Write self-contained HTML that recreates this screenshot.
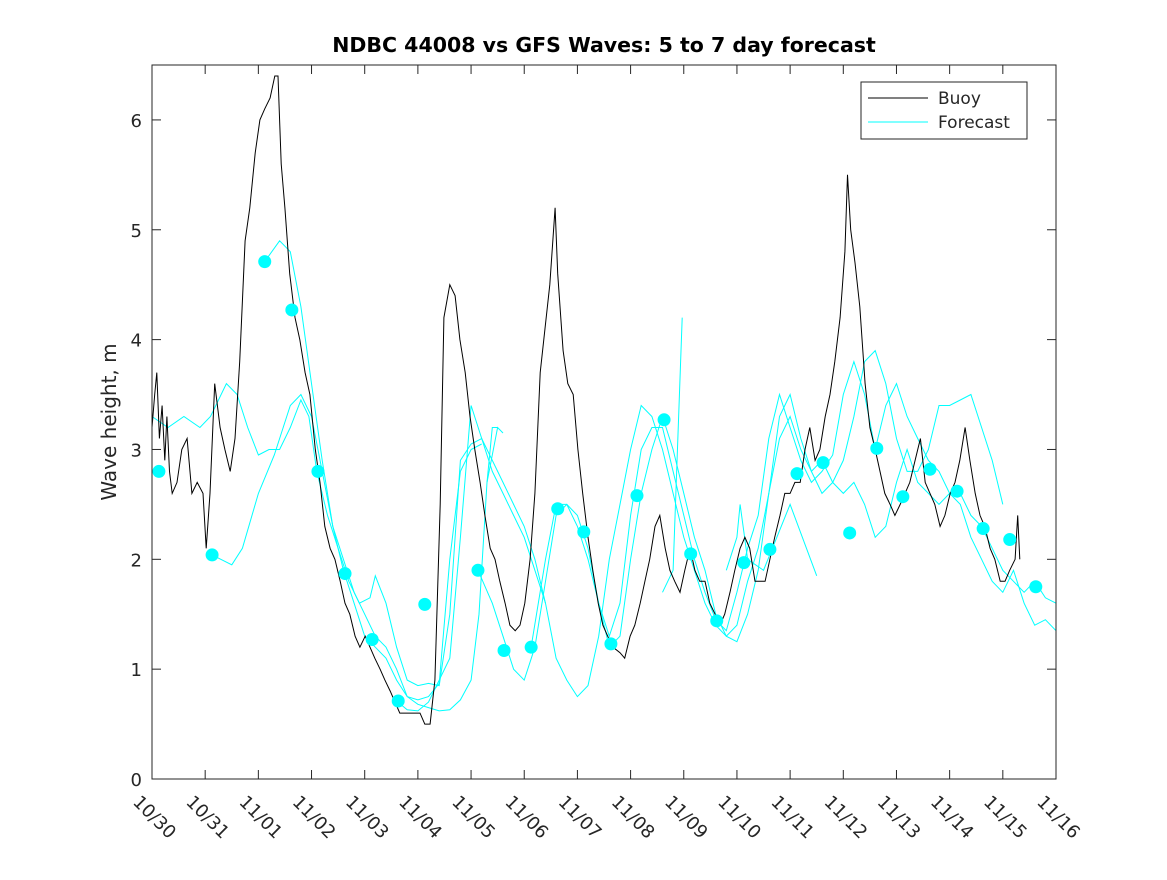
<!DOCTYPE html>
<html><head><meta charset="utf-8"><style>
body{margin:0;background:#fff;}
svg text{font-family:"DejaVu Sans","Liberation Sans",sans-serif;fill:#262626;}
</style></head><body>
<svg id="chart" width="1167" height="875" viewBox="0 0 1167 875" xmlns="http://www.w3.org/2000/svg">
<rect width="1167" height="875" fill="#fff"/>
<text x="604" y="52" text-anchor="middle" font-size="20.5" font-weight="bold" style="fill:#000">NDBC 44008 vs GFS Waves: 5 to 7 day forecast</text>
<text transform="translate(116,422) rotate(-90)" text-anchor="middle" font-size="20">Wave height, m</text>
<g id="axes"></g>
<g id="series"></g>
<rect x="152" y="65" width="904" height="714" fill="none" stroke="#262626" stroke-width="1"/>
<g>
<rect x="861" y="82" width="166" height="57" fill="#fff" stroke="#262626"/>
<line x1="868" y1="98" x2="928" y2="98" stroke="#000"/>
<text x="938" y="104" font-size="17">Buoy</text>
<line x1="868" y1="122" x2="928" y2="122" stroke="#00ffff"/>
<text x="938" y="128" font-size="17">Forecast</text>
</g>
</svg>
<script>
const xTickLabels=["10/30","10/31","11/01","11/02","11/03","11/04","11/05","11/06","11/07","11/08","11/09","11/10","11/11","11/12","11/13","11/14","11/15","11/16"];
const yTicks=[0,1,2,3,4,5,6];
const buoyDays=[0,0.05,0.09,0.14,0.19,0.24,0.28,0.33,0.38,0.47,0.56,0.66,0.75,0.85,0.96,1.02,1.09,1.18,1.28,1.37,1.47,1.56,1.65,1.75,1.84,1.94,2.03,2.12,2.22,2.31,2.37,2.43,2.5,2.59,2.69,2.78,2.88,2.97,3.07,3.16,3.25,3.35,3.44,3.54,3.63,3.72,3.82,3.91,4.01,4.1,4.19,4.29,4.38,4.48,4.57,4.66,4.85,5.04,5.13,5.23,5.32,5.42,5.49,5.6,5.7,5.79,5.89,5.98,6.07,6.17,6.26,6.36,6.45,6.54,6.64,6.73,6.83,6.92,7.01,7.11,7.2,7.3,7.39,7.48,7.58,7.63,7.73,7.82,7.92,8.01,8.1,8.2,8.29,8.39,8.48,8.57,8.67,8.8,8.89,8.99,9.08,9.18,9.27,9.36,9.46,9.55,9.65,9.74,9.83,9.93,10.02,10.12,10.21,10.3,10.4,10.49,10.59,10.68,10.77,10.87,10.96,11.06,11.15,11.24,11.34,11.43,11.53,11.62,11.71,11.81,11.9,12,12.09,12.19,12.28,12.37,12.47,12.56,12.66,12.75,12.84,12.94,13.03,13.08,13.14,13.22,13.31,13.41,13.5,13.6,13.69,13.78,13.88,13.97,14.07,14.16,14.25,14.35,14.45,14.54,14.63,14.72,14.82,14.91,15.01,15.1,15.19,15.29,15.38,15.48,15.57,15.66,15.76,15.85,15.95,16.04,16.13,16.23,16.28,16.32];
const buoyVals=[3.2,3.5,3.7,3.1,3.4,2.9,3.3,2.8,2.6,2.7,3.0,3.1,2.6,2.7,2.6,2.1,2.6,3.6,3.2,3.0,2.8,3.1,3.8,4.9,5.2,5.7,6.0,6.1,6.2,6.4,6.4,5.6,5.2,4.6,4.2,4.0,3.7,3.5,3.0,2.7,2.3,2.1,2.0,1.8,1.6,1.5,1.3,1.2,1.3,1.2,1.1,1.0,0.9,0.8,0.7,0.6,0.6,0.6,0.5,0.5,0.9,2.5,4.2,4.5,4.4,4.0,3.7,3.3,3.0,2.7,2.4,2.1,2.0,1.8,1.6,1.4,1.35,1.4,1.6,2.0,2.6,3.7,4.1,4.5,5.2,4.6,3.9,3.6,3.5,3.0,2.6,2.2,1.9,1.6,1.4,1.3,1.2,1.15,1.1,1.3,1.4,1.6,1.8,2.0,2.3,2.4,2.1,1.9,1.8,1.7,1.9,2.1,1.9,1.8,1.8,1.6,1.5,1.4,1.5,1.7,1.9,2.1,2.2,2.1,1.8,1.8,1.8,2.0,2.2,2.4,2.6,2.6,2.7,2.7,3.0,3.2,2.9,3.0,3.3,3.5,3.8,4.2,4.8,5.5,5.0,4.7,4.3,3.6,3.2,3.0,2.8,2.6,2.5,2.4,2.5,2.6,2.7,2.9,3.1,2.7,2.6,2.5,2.3,2.4,2.6,2.7,2.9,3.2,2.9,2.6,2.4,2.3,2.1,2.0,1.8,1.8,1.9,2.0,2.4,2.0];
const forecastDays=[
[0,0.3,0.6,0.9,1.1,1.4,1.6,1.8,2.0,2.2,2.4,2.6,2.8,2.95,3.1,3.3,3.5,3.7,3.9,4.1,4.2,4.4,4.6,4.8,5.0,5.2,5.4,5.6,5.8,6.0,6.2,6.4,6.6,6.8,7.0,7.2,7.4],
[1.13,1.5,1.7,2.0,2.3,2.6,2.8,3.0,3.2,3.4,3.6,3.8,4.0,4.2,4.4,4.6,4.8,5.0,5.2,5.4,5.6,5.8,6.0,6.2],
[2.12,2.4,2.6,2.8,3.0,3.2,3.4,3.6,3.8,4.0,4.2,4.4,4.6,4.8,5.0,5.2,5.4,5.6,5.8,6.0,6.15,6.3,6.5,6.6],
[4.6,4.8,5.0,5.2,5.4,5.6,5.8,6.0,6.2,6.4,6.6,6.8,7.0,7.2,7.4,7.6,7.8,8.0,8.2,8.4,8.6,8.8,9.0,9.2,9.4,9.6,9.8,10.0,10.2,10.4,10.6,10.8,11.0,11.2,11.4,11.6,11.8,12.0,12.2,12.4,12.6,12.8,13.0,13.2,13.4,13.6,13.8,14.0,14.2,14.4,14.6,14.8,15.0,15.2,15.4,15.6,15.8,16.0],
[6.13,6.4,6.6,6.8,7.0,7.2,7.4,7.6,7.8,8.0,8.2,8.4,8.6,8.8,9.0,9.2,9.4,9.6,9.8,10.0,10.2,10.4,10.6,10.8,11.0,11.2,11.4,11.6,11.8,12.0,12.2,12.4,12.6,12.8,13.0,13.2,13.4,13.6,13.8,14.0,14.2,14.4,14.6,14.8,15.0,15.2,15.4,15.6,15.8,16.0,16.2,16.4,16.6,16.8,17.0],
[7.13,7.4,7.6,7.8,8.0,8.2,8.4,8.6,8.8,9.0,9.2,9.4,9.6,9.8,10.0,10.2,10.4,10.6,10.8,11.0,11.2,11.4,11.6,11.8,12.0,12.2,12.4,12.6,12.8,13.0,13.2,13.4,13.6,13.8,14.0,14.2,14.4,14.6,14.8,15.0,15.2,15.4,15.6,15.8,16.0,16.2,16.4,16.6,16.8,17.0],
[9.6,9.8,9.97],
[6.3,6.4,6.5],
[10.8,11.0,11.06,11.2,11.5,12.0,12.5]
];
const forecastVals=[
[3.3,3.2,3.3,3.2,3.3,3.6,3.5,3.2,2.95,3.0,3.0,3.2,3.45,3.3,2.8,2.4,2.1,1.8,1.6,1.65,1.85,1.6,1.2,0.9,0.85,0.87,0.85,1.5,2.9,3.05,3.1,2.9,2.7,2.5,2.3,2.0,1.6],
[2.04,1.95,2.1,2.6,2.95,3.4,3.5,3.3,2.8,2.3,1.9,1.6,1.3,1.2,1.1,0.9,0.75,0.72,0.75,0.87,2.0,2.8,3.0,3.05],
[4.71,4.9,4.8,4.3,3.6,2.9,2.3,2.0,1.7,1.5,1.3,1.2,1.0,0.75,0.68,0.65,0.62,0.63,0.72,0.9,1.5,2.7,3.2,3.15],
[0.71,0.63,0.62,0.7,0.9,1.1,2.2,3.4,3.1,2.8,2.6,2.4,2.2,1.9,1.6,1.1,0.9,0.75,0.85,1.3,2.0,2.5,3.0,3.4,3.3,3.0,2.6,2.2,1.9,1.6,1.4,1.3,1.4,1.8,2.1,2.6,3.3,3.5,3.1,2.8,2.6,2.7,2.9,3.3,3.8,3.9,3.6,3.1,2.8,2.8,3.0,3.4,3.4,3.45,3.5,3.2,2.9,2.5],
[1.9,1.6,1.3,1.0,0.9,1.2,1.8,2.4,2.5,2.4,2.1,1.6,1.2,1.3,2.0,2.6,3.0,3.3,3.0,2.6,2.2,1.9,1.5,1.3,1.25,1.5,1.9,2.6,3.1,3.3,3.0,2.8,2.9,2.7,2.6,2.7,2.5,2.2,2.3,2.7,3.0,2.7,2.6,2.5,2.6,2.5,2.2,2.0,1.8,1.7,1.9,1.6,1.4,1.45,1.35],
[1.2,2.0,2.5,2.5,2.3,2.0,1.6,1.3,1.6,2.4,3.0,3.2,3.2,2.8,2.4,2.0,1.7,1.45,1.35,1.7,2.1,2.4,3.1,3.5,3.2,2.9,2.7,2.8,2.95,3.5,3.8,3.5,3.0,3.4,3.6,3.3,3.1,2.9,2.8,2.6,2.6,2.4,2.3,2.1,1.9,1.8,1.7,1.8,1.65,1.6],
[1.7,1.9,4.2],
[2.7,3.2,3.2],
[1.9,2.2,2.5,2.0,1.9,2.5,1.85]
];
const dotDays=[0.13,1.13,2.12,2.63,3.12,3.63,4.14,4.63,5.13,6.13,6.62,7.13,7.63,8.12,8.63,9.12,9.63,10.13,10.62,11.13,11.62,12.13,12.62,13.12,13.63,14.12,14.63,15.14,15.63,16.13,16.62];
const dotVals=[2.8,2.04,4.71,4.27,2.8,1.87,1.27,0.71,1.59,1.9,1.17,1.2,2.46,2.25,1.23,2.58,3.27,2.05,1.44,1.97,2.09,2.78,2.88,2.24,3.01,2.57,2.82,2.62,2.28,2.18,1.75];

const X0=152,X1=1056,Y0=779,Y1=65;
const xs=d=>X0+(X1-X0)*d/17;
const ys=v=>Y0-(Y0-Y1)*v/6.5;
const NS="http://www.w3.org/2000/svg";
const mk=(t,a)=>{const e=document.createElementNS(NS,t);for(const k in a)e.setAttribute(k,a[k]);return e;};
const axes=document.getElementById('axes'),ser=document.getElementById('series');
xTickLabels.forEach((lab,i)=>{
  const x=xs(i);
  const t1=mk('line',{x1:x,y1:Y0,x2:x,y2:Y0-9,stroke:'#262626'});
  
  
  axes.appendChild(t1);
  const t2=mk('line',{x1:x,y1:Y1,x2:x,y2:Y1+9,stroke:'#262626'});
  
  
  axes.appendChild(t2);
  const tx=mk('text',{transform:`translate(${x-11},${Y0+15}) rotate(45)`,'font-size':18,'dominant-baseline':'hanging'});
  tx.textContent=lab;
  
  
  axes.appendChild(tx);
});
yTicks.forEach(v=>{
  const y=ys(v);
  const t1=mk('line',{x1:X0,y1:y,x2:X0+9,y2:y,stroke:'#262626'});
  
  
  axes.appendChild(t1);
  const t2=mk('line',{x1:X1,y1:y,x2:X1-9,y2:y,stroke:'#262626'});
  
  
  axes.appendChild(t2);
  const tx=mk('text',{x:X0-10,y:y+7,'text-anchor':'end','font-size':18});
  tx.textContent=v;
  
  
  axes.appendChild(tx);
});
forecastDays.forEach((ds,i)=>{
  const p=ds.map((d,j)=>xs(d).toFixed(1)+','+ys(forecastVals[i][j]).toFixed(1)).join(' ');
  const pl=mk('polyline',{points:p,fill:'none',stroke:'#00ffff','stroke-width':1});
  
  
  ser.appendChild(pl);
});
const bp=buoyDays.map((d,j)=>xs(d).toFixed(1)+','+ys(buoyVals[j]).toFixed(1)).join(' ');
const bl=mk('polyline',{points:bp,fill:'none',stroke:'#000','stroke-width':1});


ser.appendChild(bl);
dotDays.forEach((d,i)=>{
  const c=mk('circle',{cx:xs(d),cy:ys(dotVals[i]),r:6.5,fill:'#00ffff'});
  
  
  ser.appendChild(c);
});
</script>
</body></html>
